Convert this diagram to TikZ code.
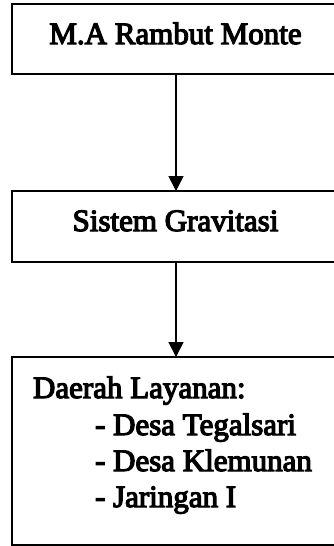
\documentclass[tikz,border=0pt]{standalone}
\usepackage{fontspec}
\setmainfont{Liberation Serif}[FakeBold=4]
\usetikzlibrary{arrows.meta}

\tikzset{
  box/.style={draw=black, line width=2.2pt, fill=white, inner sep=0pt, outer sep=0pt},
  label/.style={inner sep=0pt, outer sep=0pt, font=\fontsize{31}{36}\selectfont},
  link/.style={line width=1.8pt, -{Triangle[length=15pt,width=15pt]}}
}

\begin{document}
\begin{tikzpicture}[x=1pt, y=-1pt]
  \clip (0,0) rectangle (334,546);

  % boxes (they run on past the right edge of the page)
  \node[box, minimum width=328pt, minimum height=70pt] (src) at (176,39) {};
  \node[box, minimum width=328pt, minimum height=71pt] (grav) at (176,226.5) {};
  \node[box, minimum width=328pt, minimum height=188pt] (area) at (176,451) {};

  % box texts
  \node[label, anchor=base] (srcT) at (175.5,44) {M.A Rambut Monte};
  \node[label, anchor=base] (gravT) at (175.5,231) {Sistem Gravitasi};
  \node[label, anchor=base west] (areaT) at (33,398) {Daerah Layanan:};
  \node[label, anchor=base west] (itemA) at (95,435) {- Desa Tegalsari};
  \node[label, anchor=base west] (itemB) at (95,471) {- Desa Klemunan};
  \node[label, anchor=base west] (itemC) at (95,507) {- Jaringan I};

  % flow
  \draw[link] (src.south) -- (grav.north);
  \draw[link] (grav.south) -- (area.north);
\end{tikzpicture}
\end{document}
